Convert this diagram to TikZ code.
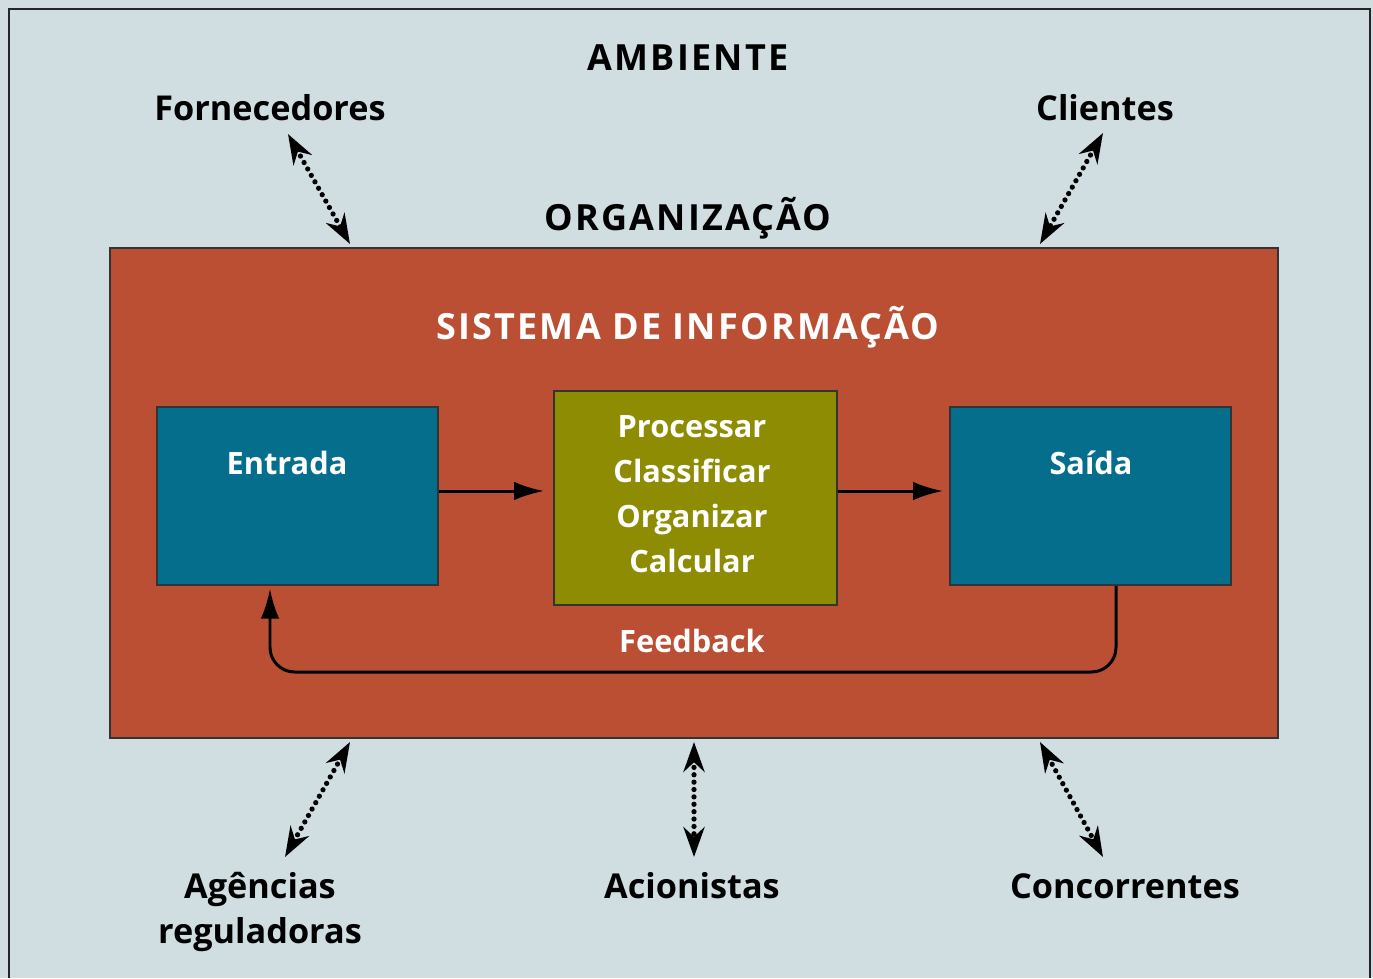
\documentclass[tikz,border=0pt]{standalone}
\usepackage{fontspec}
\setmainfont{Open Sans}
\usetikzlibrary{positioning,arrows.meta}

\definecolor{ambiente}{HTML}{D0DEE2}
\definecolor{orgcolor}{HTML}{BB4F33}
\definecolor{sisblue}{HTML}{046E8C}
\definecolor{procolive}{HTML}{8E8C02}

\begin{document}
\begin{tikzpicture}[
	x=0.02cm, y=-0.02cm,
	txt/.style={font=\fontsize{19.5}{22}\selectfont\bfseries},
	captxt/.style={font=\fontsize{20.5}{22}\selectfont\bfseries\addfontfeatures{LetterSpace=6}},
	wtxt/.style={font=\fontsize{17.5}{20}\selectfont\bfseries,text=white},
	mybox/.style={draw=black!80,line width=1.2pt,inner sep=0pt},
	flow/.style={line width=1.7pt,-{Latex[length=17pt,width=10.5pt]}},
	envarrow/.style={line width=3pt,line cap=round,dash pattern=on 0pt off 4.2pt,
		{Stealth[length=17pt,width=12pt,line cap=butt]}-{Stealth[length=17pt,width=12pt,line cap=butt]}}
	]
	\useasboundingbox (0,0) rectangle (1373,978);
	\fill[ambiente] (0,0) rectangle (1373,978);
	\draw[line width=1.5pt,black!85] (9,978) -- (9,9) -- (1370,9) -- (1370,978);

	% organizacao e sistema
	\node[mybox,fill=orgcolor,minimum width=23.36cm,minimum height=9.8cm] (org) at (694,493) {};
	\node[captxt,text=white] (sis) at (688,327) {SISTEMA DE INFORMAÇÃO};
	\node[mybox,fill=sisblue,minimum width=5.62cm,minimum height=3.56cm] (entrada) at (297.5,496) {};
	\node[mybox,fill=procolive,minimum width=5.66cm,minimum height=4.28cm] (proc) at (695.5,498) {};
	\node[wtxt,align=center,font=\fontsize{17.5}{25.5}\selectfont\bfseries] (procTxt) at (692,494)
		{Processar\\Classificar\\Organizar\\Calcular};
	\node[wtxt] (entradaTxt) at (287,463) {Entrada};
	\node[mybox,fill=sisblue,minimum width=5.62cm,minimum height=3.56cm] (saida) at (1090.5,496) {};
	\node[wtxt] (saidaTxt) at (1091,463) {Saída};
	\node[wtxt] (feed) at (692,641) {Feedback};

	\coordinate (e1) at (544,491);
	\coordinate (e2) at (943,491);
	\draw[flow] (entrada.east |- e1) -- (e1);
	\draw[flow] (proc.east |- e2) -- (e2);
	\coordinate (fb1) at (1116,672);
	\coordinate (fb2) at (270,672);
	\draw[flow,rounded corners=14pt] (saida.south -| fb1) -- (fb1) -- (fb2) -- ([yshift=-1.5pt]entrada.south -| fb2);

	% ambiente
	\node[captxt] (amb) at (688,58) {AMBIENTE};
	\node[captxt] (orgTxt) at (688,218) {ORGANIZAÇÃO};
	\node[txt] (forn) at (270,108) {Fornecedores};
	\node[txt] (cli) at (1105,108) {Clientes};
	\node[txt,align=center,font=\fontsize{19.5}{26}\selectfont\bfseries] (agen) at (260,912) {Agências\\reguladoras};
	\node[txt] (acio) at (692,886) {Acionistas};
	\node[txt] (conc) at (1125,886) {Concorrentes};

	\coordinate (a1) at (288,134);
	\coordinate (a2) at (350,244);
	\coordinate (b1) at (1103,133);
	\coordinate (b2) at (1040,244);
	\coordinate (c1) at (350,742);
	\coordinate (c2) at (285,857);
	\coordinate (d1) at (694,742);
	\coordinate (d2) at (694,857);
	\coordinate (f1) at (1040,742);
	\coordinate (f2) at (1103,857);
	\draw[envarrow] (a1) -- (a2);
	\draw[envarrow] (b1) -- (b2);
	\draw[envarrow] (c1) -- (c2);
	\draw[envarrow] (d1) -- (d2);
	\draw[envarrow] (f1) -- (f2);
\end{tikzpicture}
\end{document}
